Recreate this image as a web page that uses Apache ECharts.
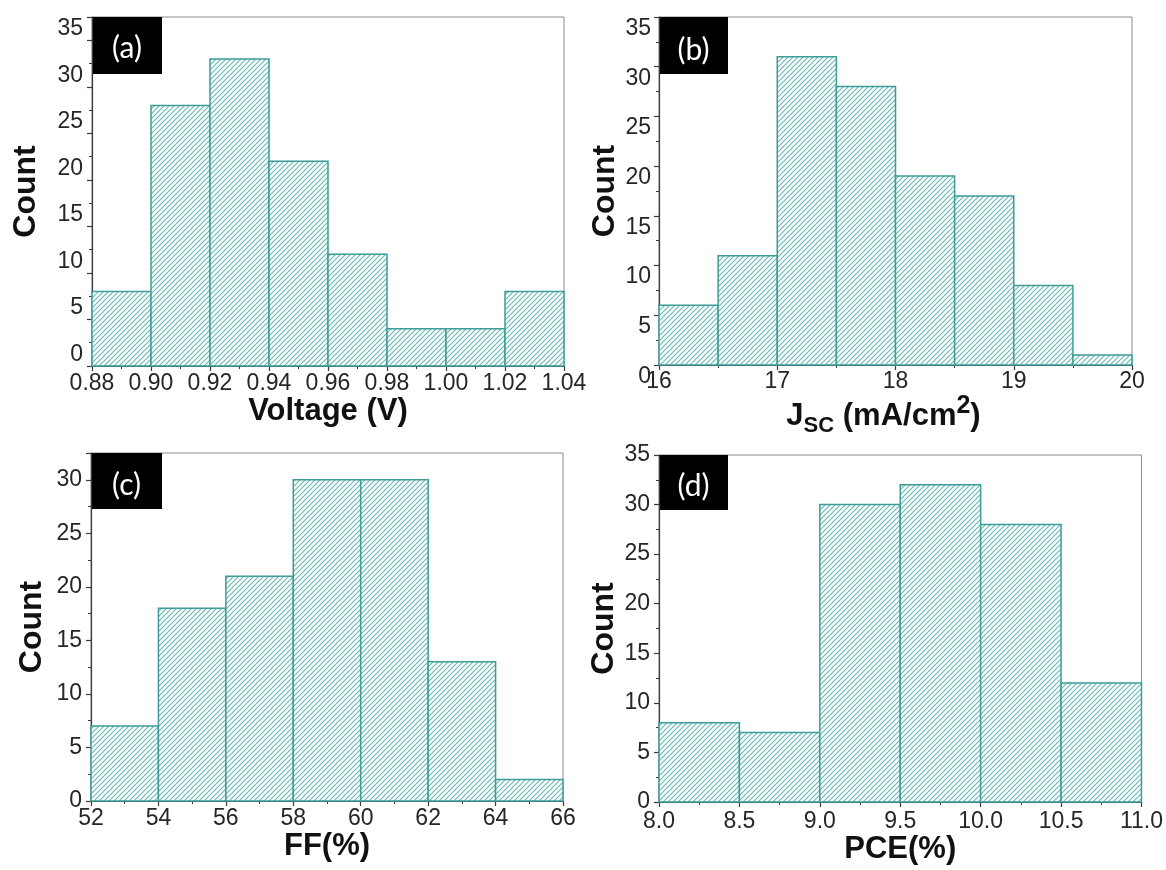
<!DOCTYPE html>
<html>
<head>
<meta charset="utf-8">
<script src="https://cdn.jsdelivr.net/npm/echarts@6/dist/echarts.min.js"></script>
<style>
  html, body { margin: 0; padding: 0; background: #ffffff; }
  #chart { width: 1166px; height: 870px; }
</style>
</head>
<body>
<div id="chart"></div>
<script>
// Histogram bins: edges (n + 1 values) and counts (n values) for each quantity
const voltageEdges = [0.88, 0.90, 0.92, 0.94, 0.96, 0.98, 1.00, 1.02, 1.04];
const voltageCounts = [8, 28, 33, 22, 12, 4, 4, 8];

const jscEdges = [16.0, 16.5, 17.0, 17.5, 18.0, 18.5, 19.0, 19.5, 20.0];
const jscCounts = [6, 11, 31, 28, 19, 17, 8, 1];

const ffEdges = [52, 54, 56, 58, 60, 62, 64, 66];
const ffCounts = [7, 18, 21, 30, 30, 13, 2];

const pceEdges = [8.0, 8.5, 9.0, 9.5, 10.0, 10.5, 11.0];
const pceCounts = [8, 7, 30, 32, 28, 12];

// Panel tags and axis titles
const panelTags = ['(a)', '(b)', '(c)', '(d)'];
const countTitle = 'Count';
const xTitles = [
  'Voltage (V)',
  '{j|J}{s|SC}{m| (mA/cm}{p|2}{m|)}',
  'FF(%)',
  'PCE(%)'
];
// Decimal places of the x tick labels
const xDecimals = [2, 0, 0, 1];

const TEAL = '#3d9c98';
const AXIS = '#3a3a3a';
const TICKTXT = '#262626';
const SANS = '"Liberation Sans", Arial, sans-serif';

// Diagonal "////" hatch tile used to fill the bars
function hatchTile() {
  const s = 5;
  const c = document.createElement('canvas');
  c.width = s; c.height = s;
  const g = c.getContext('2d');
  g.fillStyle = '#ffffff';
  g.fillRect(0, 0, s, s);
  g.strokeStyle = '#66b9b5';
  g.lineWidth = 1.15;
  g.beginPath();
  g.moveTo(0, s); g.lineTo(s, 0);
  g.moveTo(-1, 1); g.lineTo(1, -1);
  g.moveTo(s - 1, s + 1); g.lineTo(s + 1, s - 1);
  g.stroke();
  return c;
}
const hatch = { image: hatchTile(), repeat: 'repeat' };

function binRows(edges, counts) {
  return counts.map((c, i) => [edges[i], edges[i + 1], c]);
}

// Panel layout
const panels = [
  { edges: voltageEdges, counts: voltageCounts, grid: { left: 92, top: 17, width: 472, height: 349 },
    xMin: 0.88, xMax: 1.04, xInt: 0.02, yMax: 37.5, yAlign: 'bottom',
    yLabelMargin: 9, xLabelMargin: 6, xNameGap: 30, yNameGap: 50, xNamePad: [0, 0, 0, 0],
    tag: { x: 92, y: 17, w: 70, h: 57, cy: 48 } },
  { edges: jscEdges, counts: jscCounts, grid: { left: 659, top: 17, width: 473, height: 348 },
    xMin: 16, xMax: 20, xInt: 1, yMax: 35, yAlign: 'top',
    yLabelMargin: 8, xLabelMargin: 5, xNameGap: 22, yNameGap: 37, xNamePad: [0, 24, 0, 0],
    tag: { x: 659, y: 17, w: 69, h: 57, cy: 50 } },
  { edges: ffEdges, counts: ffCounts, grid: { left: 91, top: 453, width: 472, height: 348 },
    xMin: 52, xMax: 66, xInt: 2, yMax: 32.5, yAlign: 'middle',
    yLabelMargin: 9, xLabelMargin: 6, xNameGap: 27, yNameGap: 43, xNamePad: [0, 0, 0, 0],
    tag: { x: 91, y: 453, w: 71, h: 56, cy: 485 } },
  { edges: pceEdges, counts: pceCounts, grid: { left: 659, top: 455, width: 483, height: 347 },
    xMin: 8, xMax: 11, xInt: 0.5, yMax: 35, yAlign: 'middle',
    yLabelMargin: 9, xLabelMargin: 8, xNameGap: 27, yNameGap: 39, xNamePad: [0, 0, 0, 0],
    tag: { x: 659, y: 455, w: 69, h: 55, cy: 486 } }
];

const grids = [], xAxes = [], yAxes = [], series = [], graphics = [];

panels.forEach((p, i) => {
  grids.push(Object.assign({ show: true, borderColor: '#8a8a8a', borderWidth: 1,
    backgroundColor: 'transparent' }, p.grid));

  xAxes.push({
    type: 'value', gridIndex: i, min: p.xMin, max: p.xMax, interval: p.xInt,
    name: xTitles[i], nameLocation: 'middle', nameGap: p.xNameGap,
    nameTextStyle: {
      fontFamily: SANS, fontSize: 31, fontWeight: 'bold', color: '#111', padding: p.xNamePad,
      rich: {
        j: { fontFamily: SANS, fontSize: 31, fontWeight: 'bold', color: '#111' },
        m: { fontFamily: SANS, fontSize: 31, fontWeight: 'bold', color: '#111' },
        s: { fontFamily: SANS, fontSize: 22, fontWeight: 'bold', color: '#111', padding: [20, 0, 0, 0] },
        p: { fontFamily: SANS, fontSize: 25, fontWeight: 'bold', color: '#111', padding: [0, 0, 20, 0] }
      }
    },
    axisLine: { show: true, onZero: false, lineStyle: { color: AXIS, width: 1.2 } },
    axisTick: { show: true, inside: false, length: 5, lineStyle: { color: AXIS, width: 1.2 } },
    minorTick: { show: true, splitNumber: 2, length: 3, lineStyle: { color: AXIS, width: 1 } },
    splitLine: { show: false },
    axisLabel: {
      show: true, margin: p.xLabelMargin, fontFamily: SANS, fontSize: 23, color: TICKTXT,
      showMinLabel: true, showMaxLabel: true, hideOverlap: false,
      formatter: v => Number(v).toFixed(xDecimals[i])
    }
  });

  yAxes.push({
    type: 'value', gridIndex: i, min: 0, max: p.yMax, interval: 5,
    name: countTitle, nameLocation: 'middle', nameRotate: 90, nameGap: p.yNameGap,
    nameTextStyle: { fontFamily: SANS, fontSize: 32, fontWeight: 'bold', color: '#111' },
    axisLine: { show: true, onZero: false, lineStyle: { color: AXIS, width: 1.2 } },
    axisTick: { show: true, inside: false, length: 5, lineStyle: { color: AXIS, width: 1.2 } },
    minorTick: { show: true, splitNumber: 2, length: 3, lineStyle: { color: AXIS, width: 1 } },
    splitLine: { show: false },
    axisLabel: {
      show: true, margin: p.yLabelMargin, fontFamily: SANS, fontSize: 23, color: TICKTXT,
      verticalAlign: p.yAlign, showMinLabel: true, showMaxLabel: true,
      // only the multiples of five carry a label
      formatter: v => (Math.abs(v % 5) < 1e-9 ? String(v) : '')
    }
  });

  series.push({
    type: 'custom', xAxisIndex: i, yAxisIndex: i,
    data: binRows(p.edges, p.counts),
    encode: { x: [0, 1], y: 2 },
    clip: false,
    renderItem: function (params, api) {
      const topLeft = api.coord([api.value(0), api.value(2)]);
      const bottomRight = api.coord([api.value(1), 0]);
      return {
        type: 'rect',
        shape: { x: topLeft[0], y: topLeft[1],
                 width: bottomRight[0] - topLeft[0], height: bottomRight[1] - topLeft[1] },
        style: { fill: hatch, stroke: TEAL, lineWidth: 1.5 }
      };
    }
  });

  // Black panel tag in the upper-left corner
  graphics.push({
    type: 'group', z: 100,
    children: [
      { type: 'rect', shape: { x: p.tag.x, y: p.tag.y, width: p.tag.w, height: p.tag.h },
        style: { fill: '#000000' } },
      { type: 'text', x: p.tag.x + p.tag.w / 2, y: p.tag.cy,
        style: { text: panelTags[i], fill: '#ffffff', font: '30px Lato, "Open Sans", sans-serif',
                 align: 'center', verticalAlign: 'middle',
                 textAlign: 'center', textVerticalAlign: 'middle' } }
    ]
  });
});

const chart = echarts.init(document.getElementById('chart'), null, { renderer: 'canvas' });
chart.setOption({
  animation: false,
  backgroundColor: '#ffffff',
  grid: grids,
  xAxis: xAxes,
  yAxis: yAxes,
  series: series,
  graphic: graphics
});
</script>
</body>
</html>
